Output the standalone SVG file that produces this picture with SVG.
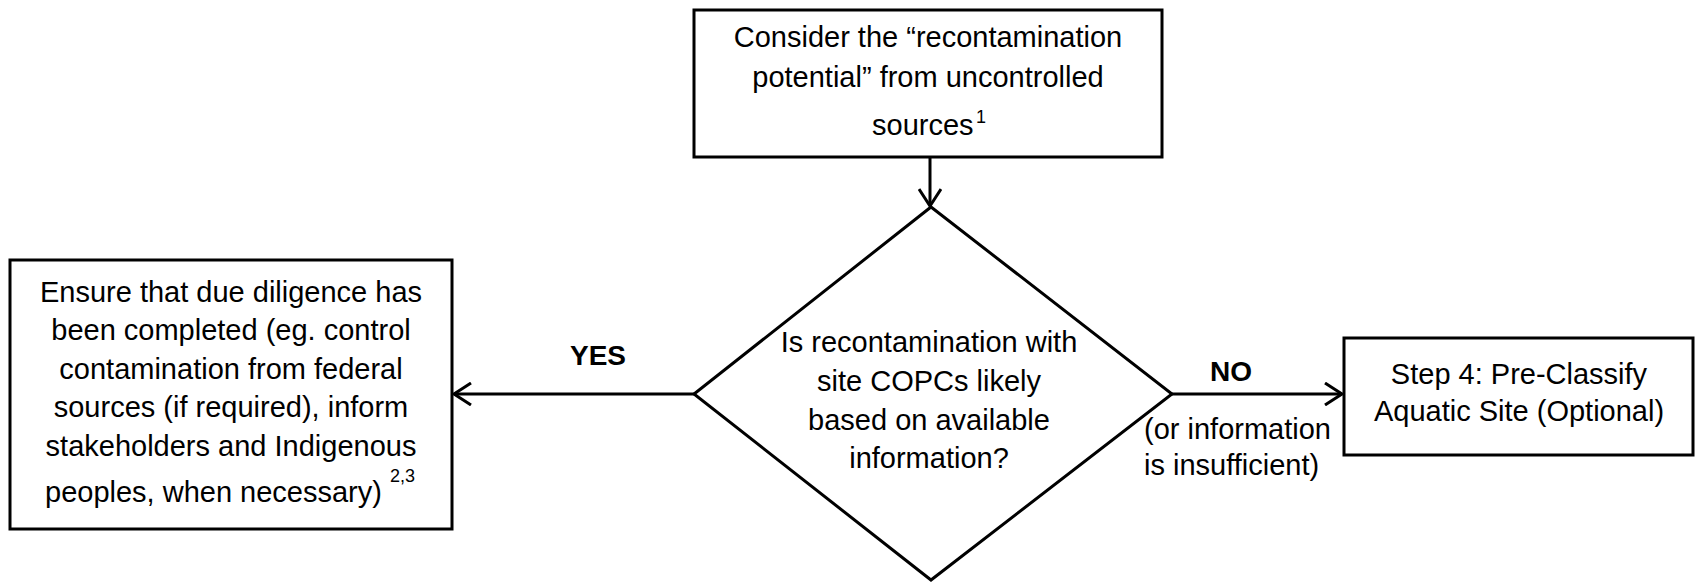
<svg xmlns="http://www.w3.org/2000/svg" width="1696" height="583" viewBox="0 0 1696 583">
  <defs>
    <style>
      .box { fill: #ffffff; stroke: #000000; stroke-width: 3; }
      .t { font-family: "Liberation Sans", Arial, sans-serif; font-size: 29px; fill: #000000; }
      .c { text-anchor: middle; }
      .b { font-weight: bold; font-size: 28px; }
      .sup { font-family: "Liberation Sans", Arial, sans-serif; font-size: 18px; fill: #000000; }
      .conn { stroke: #000000; stroke-width: 3; fill: none; }
    </style>
    <marker id="arrow" markerUnits="userSpaceOnUse" viewBox="0 0 20 24" markerWidth="20" markerHeight="24" refX="18" refY="12" orient="auto">
      <path d="M1,1 L18,12 L1,23" fill="none" stroke="#000000" stroke-width="3"/>
    </marker>
  </defs>
  <rect width="1696" height="583" fill="#ffffff"/>

  <g id="connectors">
    <line class="conn" x1="930" y1="157" x2="930" y2="206" marker-end="url(#arrow)"/>
    <line class="conn" x1="694" y1="394" x2="454" y2="394" marker-end="url(#arrow)"/>
    <line class="conn" x1="1172" y1="394" x2="1342" y2="394" marker-end="url(#arrow)"/>
    <text class="t b c" x="598" y="365">YES</text>
    <text class="t b c" x="1231" y="381">NO</text>
    <text class="t" x="1144" y="439">(or information</text>
    <text class="t" x="1144" y="475">is insufficient)</text>
  </g>

  <g id="node-consider">
    <rect class="box" x="694" y="10" width="468" height="147"/>
    <text class="t c" x="928" y="47">Consider the “recontamination</text>
    <text class="t c" x="928" y="87">potential” from uncontrolled</text>
    <text class="t" x="872" y="135">sources</text>
    <text class="sup" x="976" y="123">1</text>
  </g>

  <g id="node-decision">
    <polygon class="box" points="931,207 1172,394 931,580 694,394"/>
    <text class="t c" x="929" y="352">Is recontamination with</text>
    <text class="t c" x="929" y="391">site COPCs likely</text>
    <text class="t c" x="929" y="430">based on available</text>
    <text class="t c" x="929" y="468">information?</text>
  </g>

  <g id="node-due-diligence">
    <rect class="box" x="10" y="260" width="442" height="269"/>
    <text class="t c" x="231" y="302">Ensure that due diligence has</text>
    <text class="t c" x="231" y="340">been completed (eg. control</text>
    <text class="t c" x="231" y="379">contamination from federal</text>
    <text class="t c" x="231" y="417">sources (if required), inform</text>
    <text class="t c" x="231" y="456">stakeholders and Indigenous</text>
    <text class="t" x="45" y="502">peoples, when necessary)</text>
    <text class="sup" x="390" y="482">2,3</text>
  </g>

  <g id="node-step4">
    <rect class="box" x="1344" y="338" width="349" height="117"/>
    <text class="t c" x="1519" y="384">Step 4: Pre-Classify</text>
    <text class="t c" x="1519" y="421">Aquatic Site (Optional)</text>
  </g>
</svg>
